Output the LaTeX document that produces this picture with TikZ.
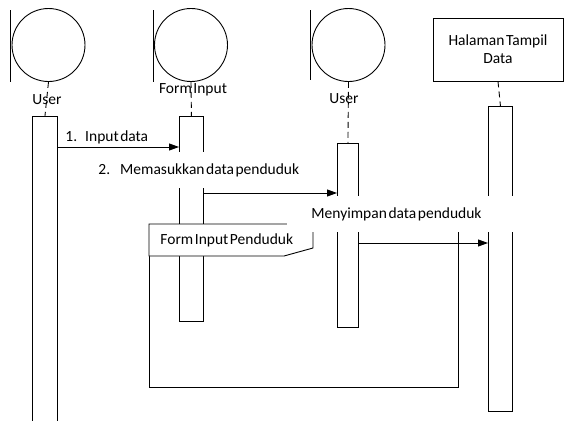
\documentclass[tikz,border=0pt]{standalone}
\usepackage{fontspec}
\setmainfont{Carlito}[WordSpace=0.45]
\usetikzlibrary{arrows.meta}
\begin{document}
\begin{tikzpicture}[x=1pt,y=-1pt,line width=0.9pt,
  txt/.style={font=\fontsize{15.5}{18}\selectfont,inner sep=0},
  bnd/.style={circle,draw,minimum size=73pt,inner sep=0},
  act/.style={draw,fill=white,anchor=north west,inner sep=0},
  life/.style={dash pattern=on 6pt off 4pt},
  msg/.style={-{Triangle[length=10pt,width=7pt]}},
  lblbox/.style={fill=white,anchor=west,inner xsep=4pt,inner ysep=0,minimum height=36pt,font=\fontsize{15.5}{18}\selectfont}
]
\path[use as bounding box] (0,0) rectangle (566,421);

% boundary symbols
\node[bnd] (c1) at (48.5,45) {};
\draw (10,10) -- (10,82);
\node[bnd] (c2) at (191,45) {};
\draw (153,10) -- (153,82);
\node[bnd] (c3) at (348.5,45) {};
\draw (310,10) -- (310,80);
\node[draw,minimum width=130pt,minimum height=63pt,inner sep=0,align=center,font=\fontsize{15.5}{18}\selectfont] (h) at (498,49.5) {Halaman Tampil\\Data};

% activation bars
\node[anchor=north west,minimum width=25pt,minimum height=305pt,inner sep=0] (a1) at (32,116) {};
\draw (a1.south west) |- (a1.north east) -- (a1.south east);
\node[act,minimum width=24pt,minimum height=205pt] (a2) at (179,116) {};
\node[act,minimum width=21pt,minimum height=184pt] (a3) at (337,143) {};
\node[act,minimum width=24pt,minimum height=305pt] (a4) at (488,106) {};

% lifelines
\draw[life] (c1.south) -- (a1.north);
\draw[life] (c2.south) -- (a2.north);
\draw[life] (c3.south) -- (a3.north);
\draw[life] (h.south) -- (a4.north);

% lifeline names
\node[txt] (n1) at (47,100) {User};
\node[txt] (n2) at (193,90) {Form Input};
\node[txt] (n3) at (344,99) {User};

% frame
\draw (149,224) rectangle (458,387);
\draw[fill=white] (149,224) -- (313,224) -- (313,248) -- (284,256) -- (149,256) -- cycle;
\node[txt,anchor=west] (ft) at (160,240) {Form Input Penduduk};

% message labels
\node[txt,anchor=west] (l1) at (65,137) {1.\hspace{8pt}Input data};
\node[lblbox] (l2) at (60,170) {\makebox[268pt][l]{\hspace{34pt}2.\hspace{10pt}Memasukkan data penduduk}};
\node[lblbox] (l3) at (287,214) {\makebox[221pt][l]{\hspace{20pt}Menyimpan data penduduk}};

% messages
\coordinate (m1) at (0,147);
\coordinate (m2) at (0,193);
\coordinate (m3) at (0,243);
\draw[msg] (a1.east |- m1) -- (a2.west |- m1);
\draw[msg] (a2.east |- m2) -- (a3.west |- m2);
\draw[msg] (a3.east |- m3) -- (a4.west |- m3);
\end{tikzpicture}
\end{document}
